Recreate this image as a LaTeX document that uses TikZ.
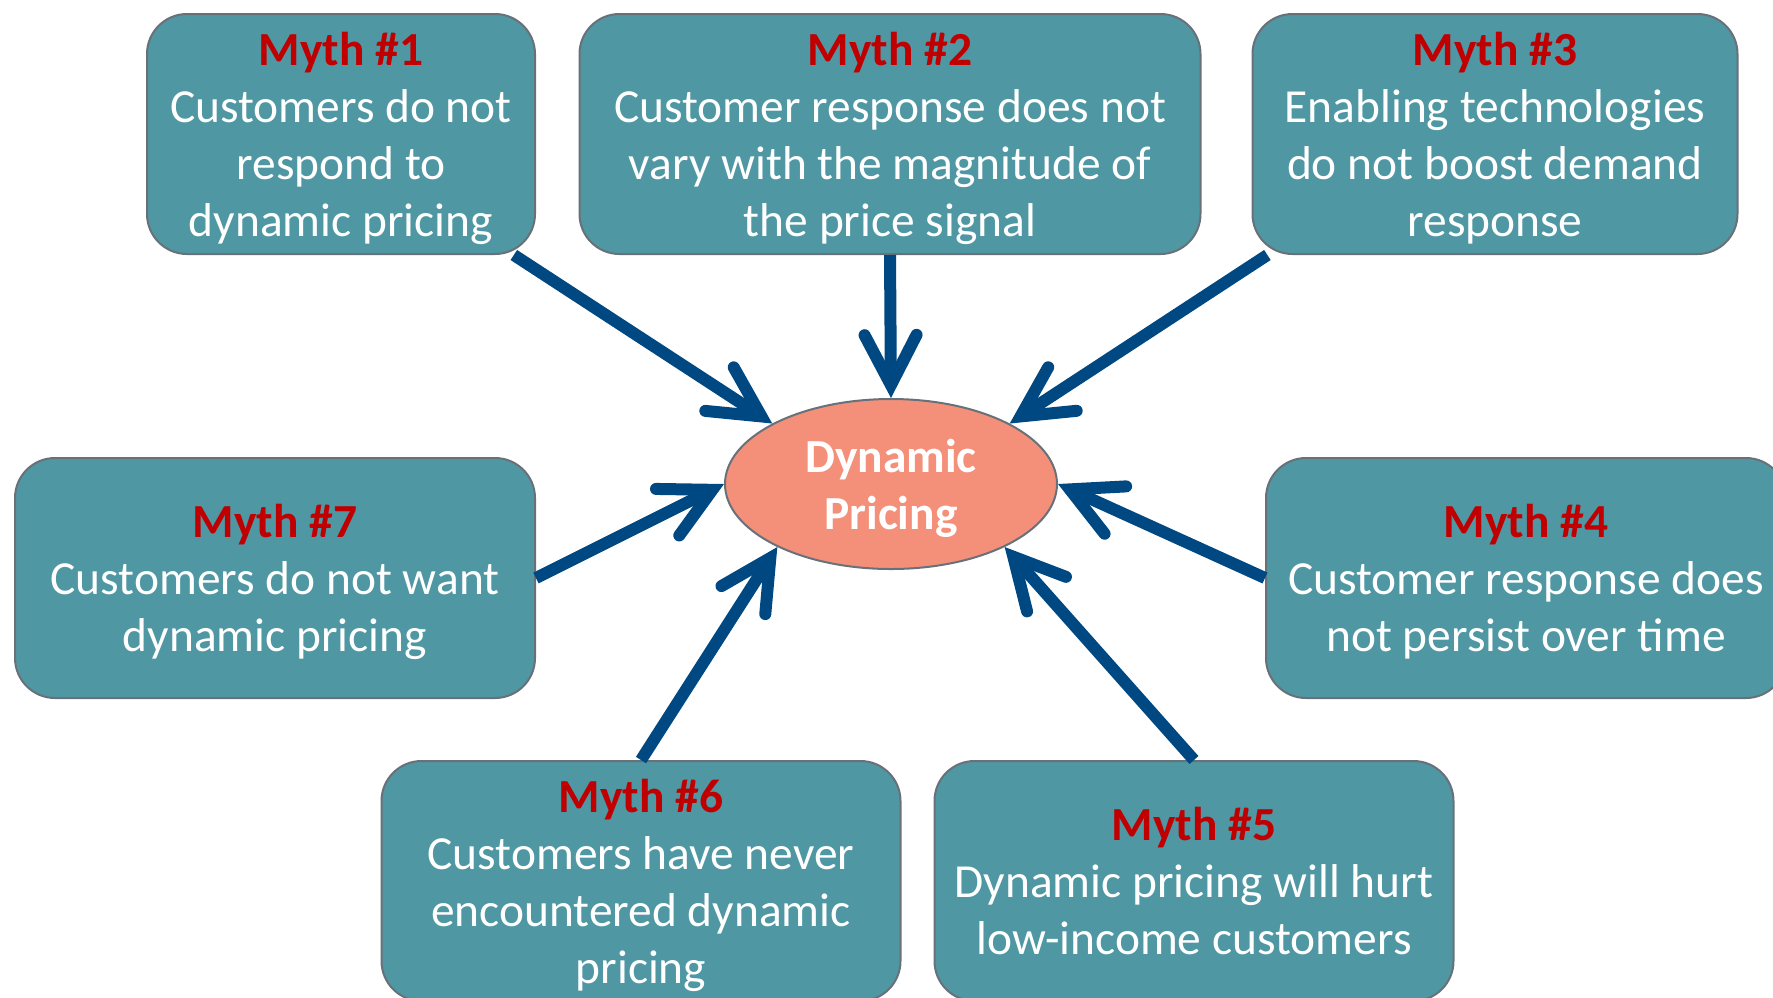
\documentclass[tikz,border=0pt]{standalone}
\usepackage{fontspec}
\setmainfont{Carlito}
\usetikzlibrary{arrows.meta,shapes.geometric}

\definecolor{mythfill}{RGB}{79,151,163}
\definecolor{mythline}{RGB}{104,113,121}
\definecolor{mythred}{RGB}{192,0,0}
\definecolor{pricefill}{RGB}{244,144,122}
\definecolor{arrowblue}{RGB}{0,72,130}

\def\unit{0.1mm}
\newcommand{\mythhead}[1]{\textcolor{mythred}{\bfseries Myth \##1}}

\begin{document}
\begin{tikzpicture}[x=\unit, y=-\unit,
    every node/.style={font=\fontsize{13.5}{16.2}\selectfont},
    myth/.style={draw=mythline, line width=0.2mm, fill=mythfill, rounded corners=4mm,
      text=white, align=center, inner sep=0pt, text depth=0pt, minimum height=24mm},
    pointer/.style={draw=arrowblue, line width=1.2mm,
      -{Straight Barb[length=5mm, width=5.2mm, line cap=round, line join=miter]}}]
      \useasboundingbox (0,0) rectangle (1773,997);

      % the seven myths
      \node[myth, minimum width=38.8mm] (m1) at (341,134)
        {\mythhead{1}\\Customers do not\\respond to\\dynamic pricing};
      \node[myth, minimum width=62.1mm] (m2) at (890,134)
        {\mythhead{2}\\Customer response does not\\vary with the magnitude of\\the price signal};
      \node[myth, minimum width=48.5mm] (m3) at (1495,134)
        {\mythhead{3}\\Enabling technologies\\do not boost demand\\response};
      \node[myth, minimum width=52mm] (m4) at (1526,578)
        {\mythhead{4}\\Customer response does\\not persist over time};
      \node[myth, minimum width=51.9mm] (m5) at (1194,881)
        {\mythhead{5}\\Dynamic pricing will hurt\\low-income customers};
      \node[myth, minimum width=51.9mm] (m6) at (641,881)
        {\mythhead{6}\\Customers have never\\encountered dynamic\\pricing};
      \node[myth, minimum width=52mm] (m7) at (275,578)
        {\mythhead{7}\\Customers do not want\\dynamic pricing};

      % centre
      \node[ellipse, draw=mythline, line width=0.2mm, fill=pricefill, inner sep=0pt,
        minimum width=33.2mm, minimum height=17mm, text=white, align=center, text depth=0pt,
        font=\fontsize{13.5}{16.2}\selectfont\bfseries] (dp) at (891,484) {Dynamic\\Pricing};

      \draw[pointer] (m1.-35) -- (dp.153);
      \draw[pointer] (m2.south) -- (dp.north);
      \draw[pointer] (m3.208) -- (dp.27);
      \draw[pointer] (m4.west) -- (dp.east);
      \draw[pointer] (m5.north) -- (dp.331);
      \draw[pointer] (m6.north) -- (dp.209);
      \draw[pointer] (m7.east) -- (dp.west);
    \end{tikzpicture}
\end{document}
